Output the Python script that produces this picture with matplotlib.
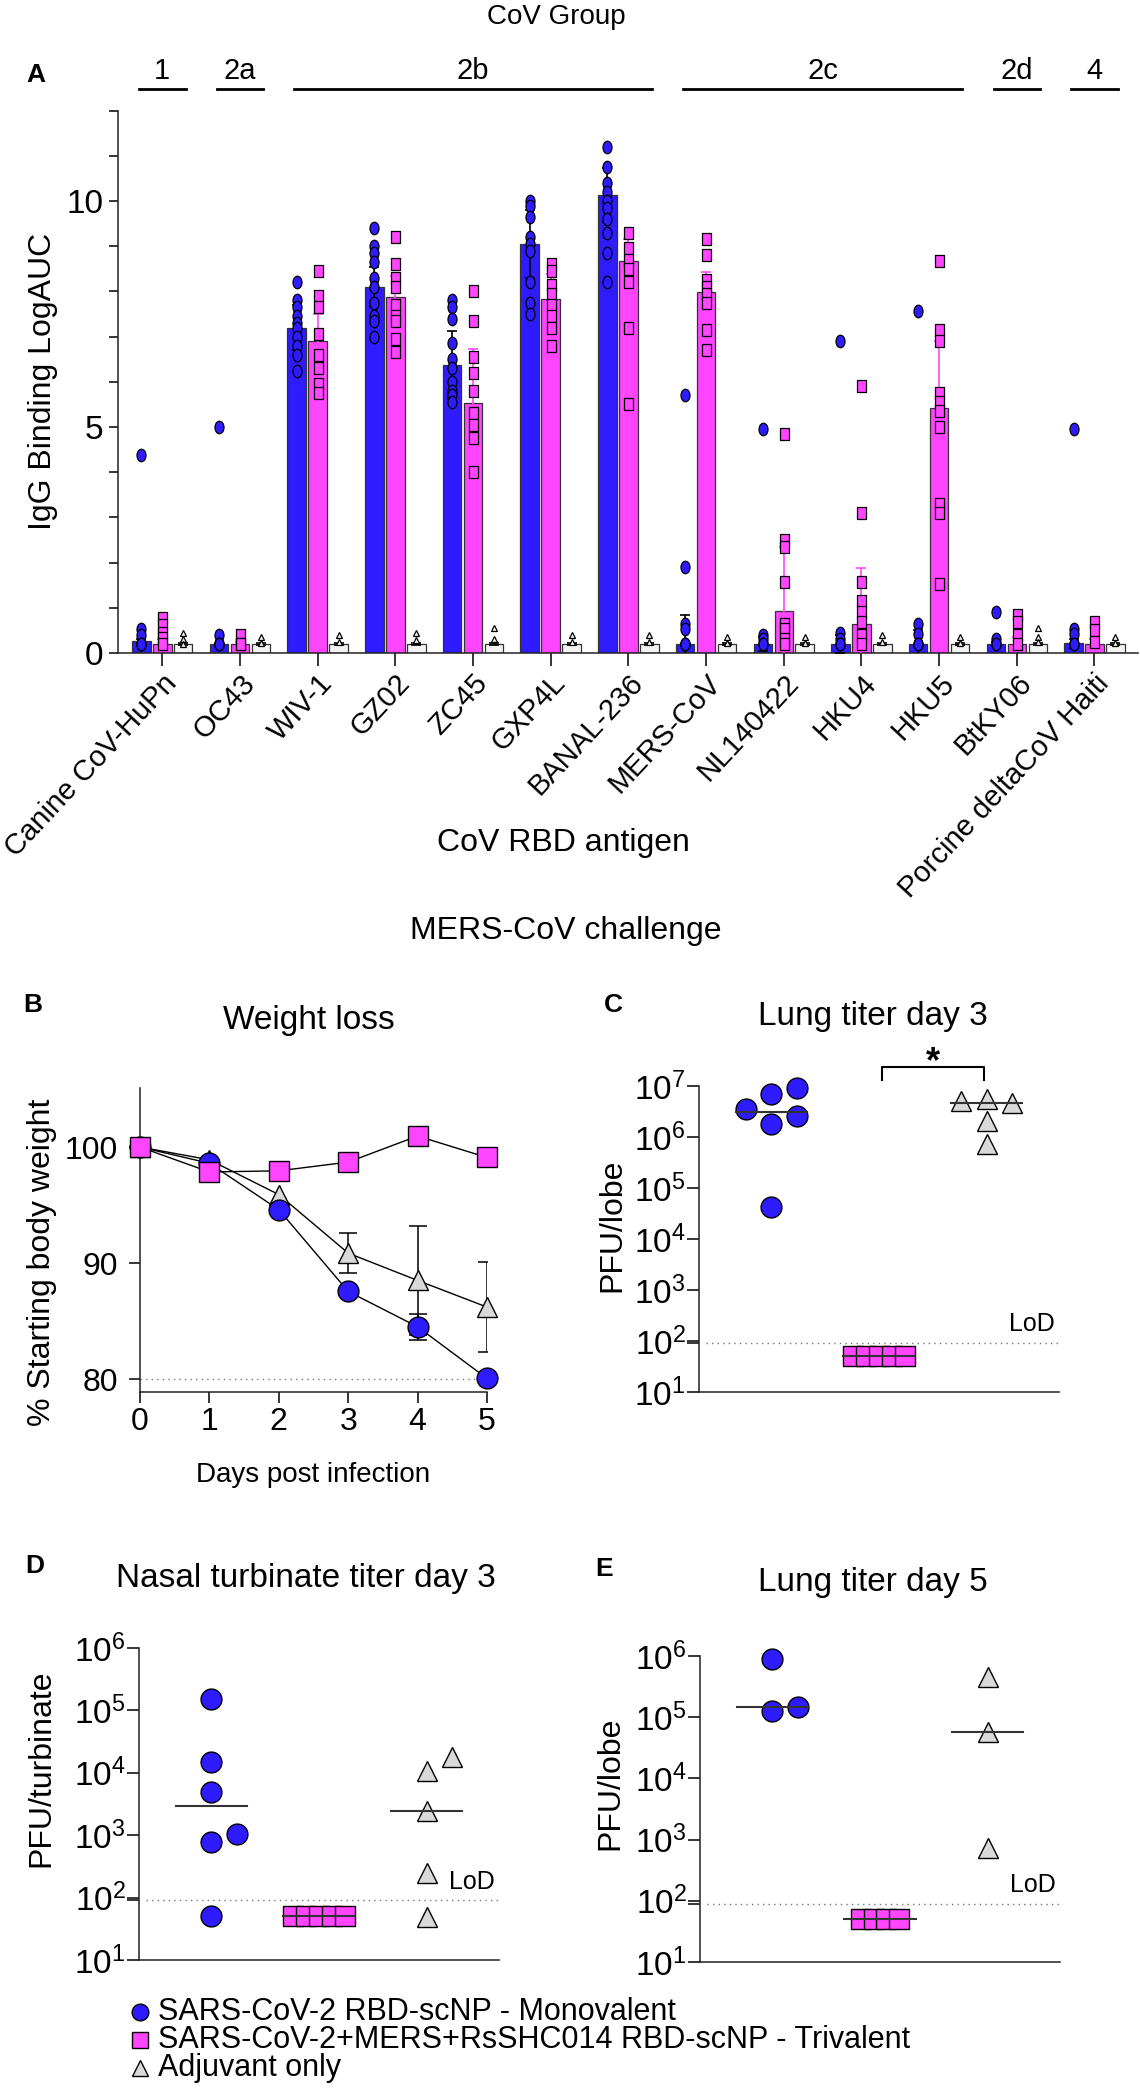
import numpy as np
import matplotlib
matplotlib.use("Agg")
import matplotlib.pyplot as plt
import matplotlib.transforms as mtransforms
from matplotlib.path import Path
from matplotlib.ticker import FixedLocator, LogLocator, NullFormatter, MultipleLocator

plt.rcParams['font.family'] = ['Liberation Sans', 'DejaVu Sans']
plt.rcParams['mathtext.default'] = 'regular'
plt.rcParams['axes.linewidth'] = 1.1
plt.rcParams['axes.edgecolor'] = '#222222'

BLUE = '#2e1cff'
PINK = '#ff45ff'
GREY = '#d9d9d9'
PALE = '#f2f2f2'

# ---------------- panel A: IgG binding per RBD antigen ----------------
antigens = ["Canine CoV-HuPn", "OC43", "WIV-1", "GZ02", "ZC45", "GXP4L", "BANAL-236",
            "MERS-CoV", "NL140422", "HKU4", "HKU5", "BtKY06", "Porcine deltaCoV Haiti"]
cov_groups = [("1", 0, 0), ("2a", 1, 1), ("2b", 2, 6), ("2c", 7, 10), ("2d", 11, 11), ("4", 12, 12)]

mono_bar = [0.27, 0.2, 7.2, 8.1, 6.37, 9.05, 10.14, 0.2, 0.2, 0.2, 0.2, 0.2, 0.22]
tri_bar = [0.2, 0.2, 6.9, 7.88, 5.53, 7.83, 8.67, 7.98, 0.94, 0.64, 5.42, 0.2, 0.2]
adj_bar = [0.2, 0.2, 0.2, 0.2, 0.2, 0.2, 0.2, 0.2, 0.2, 0.2, 0.2, 0.2, 0.2]

mono_err = [0.05, 0.03, 0.5, 0.45, 0.75, 0.75, 0.6, 0.65, 0.15, 0.2, 0.3, 0.05, 0.1]
tri_err = [0.1, 0.05, 0.6, 0.45, 1.2, 0.55, 0.5, 0.45, 1.4, 1.25, 1.48, 0.15, 0.1]
adj_err = [0.03, 0.03, 0.03, 0.03, 0.03, 0.03, 0.03, 0.03, 0.03, 0.03, 0.03, 0.03, 0.03]

mono_pts = [
    [4.37, 0.53, 0.4, 0.2, 0.2, 0.2],
    [5.0, 0.4, 0.2, 0.2, 0.2],
    [8.2, 7.8, 7.65, 7.45, 7.3, 7.2, 7.0, 6.8, 6.6, 6.25],
    [9.4, 9.0, 8.85, 8.65, 8.3, 8.1, 7.75, 7.45, 7.35, 7.0],
    [7.8, 7.65, 7.4, 6.85, 6.5, 6.3, 6.0, 5.8, 5.7, 5.55],
    [10.0, 9.9, 9.65, 9.2, 9.05, 8.9, 8.2, 7.75, 7.5],
    [11.2, 10.75, 10.4, 10.2, 10.0, 9.85, 9.6, 9.3, 8.85, 8.2],
    [5.7, 1.9, 0.64, 0.53, 0.2, 0.2, 0.2],
    [4.95, 0.4, 0.3, 0.2, 0.2],
    [6.9, 0.45, 0.3, 0.2, 0.2],
    [7.57, 0.64, 0.42, 0.2, 0.2],
    [0.9, 0.3, 0.2, 0.2],
    [4.95, 0.53, 0.42, 0.2, 0.2],
]
tri_pts = [
    [0.77, 0.62, 0.45, 0.33, 0.2],
    [0.4, 0.2, 0.2],
    [8.45, 7.9, 7.65, 7.05, 6.6, 6.3, 5.95, 5.75],
    [9.2, 8.6, 8.3, 8.1, 7.7, 7.45, 7.35, 6.95, 6.65],
    [8.0, 7.35, 6.55, 6.2, 5.8, 5.3, 5.05, 4.75, 4.0],
    [8.6, 8.45, 8.15, 7.95, 7.7, 7.45, 7.2, 6.8],
    [9.3, 8.95, 8.7, 8.5, 8.2, 7.2, 5.5],
    [9.15, 8.8, 8.25, 8.1, 7.95, 7.75, 7.15, 6.7],
    [4.85, 2.5, 2.35, 1.56, 0.64, 0.53, 0.3, 0.2],
    [5.9, 3.1, 1.56, 1.16, 0.9, 0.68, 0.4, 0.2],
    [8.67, 7.15, 6.9, 5.75, 5.55, 5.35, 5.0, 3.3, 3.1, 1.53],
    [0.84, 0.68, 0.4, 0.2],
    [0.68, 0.51, 0.25],
]
adj_pts = [
    [0.45, 0.3, 0.2], [0.35, 0.22], [0.4, 0.25], [0.45, 0.28], [0.55, 0.3],
    [0.4, 0.25], [0.4, 0.25], [0.35, 0.22], [0.35, 0.22], [0.4, 0.25],
    [0.35, 0.22], [0.55, 0.35, 0.25], [0.35, 0.22],
]

# ---------------- panel B: weight loss ----------------
days = [0, 1, 2, 3, 4, 5]
mono_wt = [100, 98.6, 94.6, 87.55, 84.5, 80.05]
mono_wt_err = [0, 0, 0, 0, 1.1, 0]
tri_wt = [100, 97.85, 97.95, 98.7, 100.95, 99.1]
tri_wt_err = [0, 0, 0, 0, 0, 0]
adj_wt = [100, 98.9, 95.9, 90.85, 88.5, 86.2]
adj_wt_err = [0, 0, 0, 1.7, 4.7, 3.85]

# ---------------- panels C-E: viral titers ----------------
lod = 90
lung3_mono = [9.1e6, 7.1e6, 3.6e6, 2.6e6, 1.8e6, 4.2e4]
lung3_tri = [50, 50, 50, 50, 50]
lung3_adj = [5.5e6, 5.0e6, 4.7e6, 2.1e6, 7.2e5]
nasal3_mono = [1.5e5, 1.5e4, 4.9e3, 1.05e3, 7.8e2, 50]
nasal3_tri = [50, 50, 50, 50, 50]
nasal3_adj = [1.8e4, 1.05e4, 2.4e3, 2.45e2, 48]
lung5_mono = [1.25e5, 9.1e5, 1.48e5]
lung5_tri = [50, 50, 50, 50]
lung5_adj = [4.6e5, 5.8e4, 7.4e2]

legend_labels = ["SARS-CoV-2 RBD-scNP - Monovalent",
                 "SARS-CoV-2+MERS+RsSHC014 RBD-scNP - Trivalent",
                 "Adjuvant only"]

W, H = 1140, 2100
fig = plt.figure(figsize=(W / 100, H / 100), dpi=100)


def rect(left, right, top, bottom):
    return [left / W, 1 - bottom / H, (right - left) / W, (bottom - top) / H]


def clean(ax):
    ax.spines['top'].set_visible(False)
    ax.spines['right'].set_visible(False)
    ax.set_facecolor('none')


# tall markers used in panel A
circ = Path.unit_circle()
oval = Path(circ.vertices * [0.72, 1.0], circ.codes)
tall_sq = Path([(-0.36, -0.5), (0.36, -0.5), (0.36, 0.5), (-0.36, 0.5), (-0.36, -0.5)],
               [Path.MOVETO, Path.LINETO, Path.LINETO, Path.LINETO, Path.CLOSEPOLY])

# ---------------- panel A ----------------
axA = fig.add_axes(rect(118, 1138, 110.6, 653))
clean(axA)
x = np.arange(len(antigens))
bw, off = 0.238, 0.27
series = [
    (mono_bar, mono_err, mono_pts, BLUE, 'black', oval, 9),
    (tri_bar, tri_err, tri_pts, PINK, PINK, tall_sq, 9),
    (adj_bar, adj_err, adj_pts, PALE, 'black', '^', 4),
]
for k, (bars, errs, pts, col, ecol, mk, ms) in enumerate(series):
    xs = x + (k - 1) * off
    axA.bar(xs, bars, width=bw, color=col, edgecolor='#333333', linewidth=0.9, zorder=2)
    axA.errorbar(xs, bars, yerr=errs, fmt='none', ecolor=ecol, elinewidth=1.2,
                 capsize=3.5, capthick=1.2, zorder=3)
    for xi, p in zip(xs, pts):
        axA.plot(np.full(len(p), xi), p, ls='none', marker=mk, ms=ms, mfc=col,
                 mec='black', mew=0.9, zorder=4, clip_on=False)

axA.set_xlim(-0.57, 12.56)
axA.set_ylim(0, 12)
axA.yaxis.set_major_locator(FixedLocator([0, 5, 10]))
axA.yaxis.set_minor_locator(MultipleLocator(1))
axA.tick_params(axis='y', which='both', length=6.5, width=1.1, labelsize=24, pad=4)
axA.set_xticks(x)
axA.set_xticklabels(antigens, rotation=47, ha='right', va='top',
                    rotation_mode='anchor', fontsize=21)
axA.tick_params(axis='x', length=9.5, width=1.1, pad=2)

# ---------------- panel B ----------------
axB = fig.add_axes(rect(140, 487, 1088, 1392))
clean(axB)
axB.plot([0, 5], [80, 80], ls=(0, (1, 3)), color='#777777', lw=1.0, zorder=1)
for vals, errs, col, mk, ms in [(adj_wt, adj_wt_err, GREY, '^', 15),
                                (mono_wt, mono_wt_err, BLUE, 'o', 15),
                                (tri_wt, tri_wt_err, PINK, 's', 14.5)]:
    vals = np.array(vals, float)
    errs = np.array(errs, float)
    has = errs > 0
    if has.any():
        axB.errorbar(np.array(days)[has], vals[has], yerr=errs[has], fmt='none',
                     ecolor='black', elinewidth=1.1, capsize=6.5, capthick=1.1, zorder=2)
    axB.plot(days, vals, color='black', lw=1.0, marker=mk, ms=ms, mfc=col, mec='black',
             mew=1.0, zorder=3, clip_on=False)
axB.set_xlim(0, 5)
axB.set_ylim(78.88, 105.09)
axB.set_xticks(days)
axB.set_yticks([80, 90, 100])
axB.tick_params(length=8, width=1.1, labelsize=23)
axB.tick_params(axis='y', pad=8)
axB.tick_params(axis='x', pad=3)


# ---------------- panels C, D, E ----------------
def swarm(vals, step, thresh):
    vals = np.asarray(vals, float)
    n = len(vals)
    if np.allclose(vals, vals[0]):
        return (np.arange(n) - (n - 1) / 2) * step
    lv = np.log10(vals)
    offs = np.zeros(n)
    placed = []
    for i in np.argsort(lv):
        for slot in [0, 1, -1, 2, -2, 3, -3]:
            if all(abs(lv[i] - v) >= thresh for v, s in placed if s == slot):
                break
        placed.append((lv[i], slot))
        offs[i] = slot * step
    return offs


def titer_panel(box, groups, top, thresh):
    ax = fig.add_axes(rect(*box))
    clean(ax)
    styles = [(BLUE, 'o', 15, 0.235), (PINK, 's', 14.5, 0.12), (GREY, '^', 14.5, 0.235)]
    for k, (vals, (col, mk, ms, step)) in enumerate(zip(groups, styles)):
        xs = k + swarm(vals, step, thresh)
        for xi, v in zip(xs, vals):
            ax.plot([xi], [v], ls='none', marker=mk, ms=ms, mfc=col, mec='black',
                    mew=1.0, zorder=3, clip_on=False)
        med = np.median(vals)
        ax.plot([k - 0.33, k + 0.33], [med, med], color='#333333', lw=1.5, zorder=4)
    ax.set_yscale('log')
    ax.set_ylim(10, top)
    ax.set_xlim(-0.67, 2.67)
    ax.set_xticks([])
    ax.yaxis.set_major_locator(LogLocator(base=10, numticks=10))
    ax.yaxis.set_minor_locator(FixedLocator([lod]))
    ax.yaxis.set_minor_formatter(NullFormatter())
    ax.tick_params(axis='y', which='both', length=8.5, width=1.1, labelsize=24, pad=1)
    ax.axhline(lod, xmin=0.02, xmax=1.0, ls=(0, (1, 3)), color='#777777', lw=1.0, zorder=1)
    ax.annotate("LoD", xy=(1.0, lod), xycoords=('axes fraction', 'data'),
                xytext=(-3, 5), textcoords='offset points', ha='right', va='bottom',
                fontsize=18)
    return ax


axC = titer_panel((699, 1059, 1086, 1392), [lung3_mono, lung3_tri, lung3_adj], 1e7, 0.41)
axD = titer_panel((139, 499, 1648, 1960), [nasal3_mono, nasal3_tri, nasal3_adj], 1e6, 0.34)
axE = titer_panel((700, 1060, 1656, 1962), [lung5_mono, lung5_tri, lung5_adj], 1e6, 0.34)

# significance bracket on panel C
axC.plot([1.03, 1.03, 1.97, 1.97], [10 ** 7.12, 10 ** 7.37, 10 ** 7.37, 10 ** 7.12],
         color='black', lw=1.5, clip_on=False)
axC.text(1.5, 10 ** 7.45, "*", ha='center', va='center', fontsize=26, fontweight='bold')

# ---------------- overlay: titles, labels, legend ----------------
ov = fig.add_axes([0, 0, 1, 1])
ov.set_xlim(0, W)
ov.set_ylim(H, 0)
ov.axis('off')


def ftext(xp, yp, s, size=23, **kw):
    kw.setdefault('ha', 'center')
    kw.setdefault('va', 'center')
    ov.text(xp, yp, s, fontsize=size, **kw)


ftext(556, 17, "CoV Group", 20)
ftext(36, 75, "A", 19, fontweight='bold')
ftext(43, 381, "IgG Binding LogAUC", 23, rotation=90)
ftext(563, 843, "CoV RBD antigen", 23)
ftext(566, 931, "MERS-CoV challenge", 23)

grp_trans = mtransforms.blended_transform_factory(axA.transData, ov.transData)
for name, first, last in cov_groups:
    a, b = first - 0.3, last + 0.3
    axA.plot([a, b], [89, 89], color='black', lw=2.0, transform=grp_trans, clip_on=False)
    axA.text((a + b) / 2, 71, name, transform=grp_trans, ha='center', va='center',
             fontsize=21)

ftext(33, 1005, "B", 19, fontweight='bold')
ftext(309, 1020, "Weight loss", 24)
ftext(42, 1262, "% Starting body weight", 23, rotation=90)
ftext(313, 1475, "Days post infection", 20)

ftext(613, 1005, "C", 19, fontweight='bold')
ftext(873, 1017, "Lung titer day 3", 24)
ftext(612, 1225, "PFU/lobe", 23, rotation=90)

ftext(35, 1566, "D", 19, fontweight='bold')
ftext(306, 1578, "Nasal turbinate titer day 3", 24)
ftext(41, 1768, "PFU/turbinate", 23, rotation=90)

ftext(604, 1569, "E", 19, fontweight='bold')
ftext(873, 1582, "Lung titer day 5", 24)
ftext(610, 1783, "PFU/lobe", 23, rotation=90)

for yp, lab, (col, mk) in zip([2012, 2040, 2068], legend_labels,
                              [(BLUE, 'o'), (PINK, 's'), (GREY, '^')]):
    ov.plot([140], [yp], ls='none', marker=mk, ms=12, mfc=col, mec='black', mew=1.0)
    ftext(158, yp, lab, 22, ha='left')

fig.savefig("out.png", dpi=100)
